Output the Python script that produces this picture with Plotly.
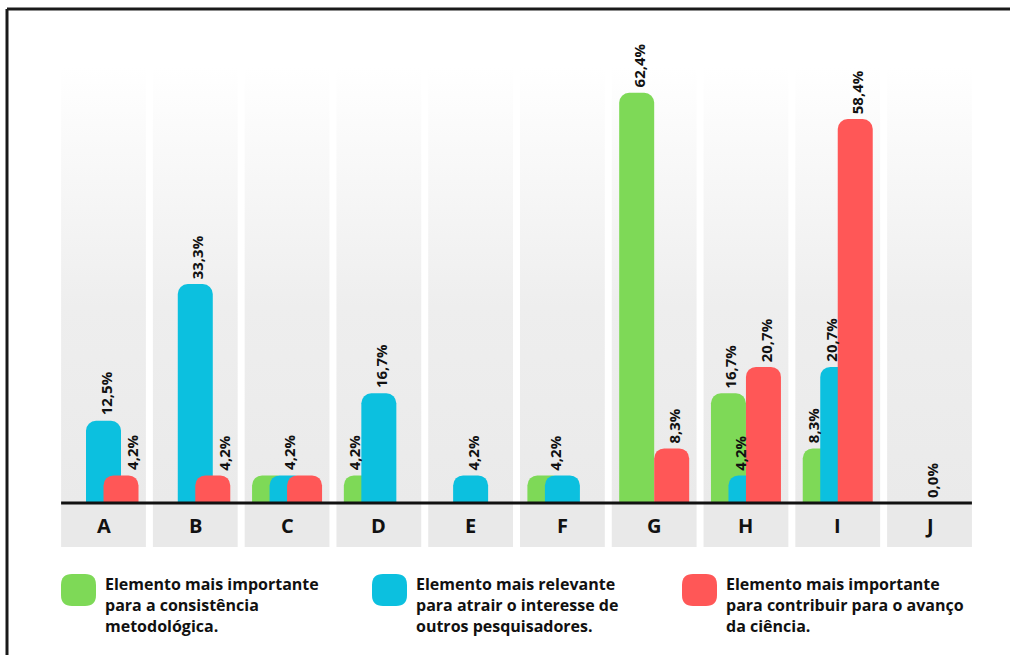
import plotly.graph_objects as go

categories = ["A", "B", "C", "D", "E", "F", "G", "H", "I", "J"]
green_vals = [0, 0, 4.2, 4.2, 0, 4.2, 62.4, 16.7, 8.3, 0]
cyan_vals = [12.5, 33.3, 4.2, 16.7, 4.2, 4.2, 0, 4.2, 20.7, 0]
red_vals = [4.2, 4.2, 4.2, 0, 0, 0, 8.3, 20.7, 58.4, 0]
series_names = [
    "Elemento mais importante<br>para a consistência<br>metodológica.",
    "Elemento mais relevante<br>para atrair o interesse de<br>outros pesquisadores.",
    "Elemento mais importante<br>para contribuir para o avanço<br>da ciência.",
]
colors = ["#7ED957", "#0CC0DF", "#FF5757"]

# label visibility / nudges (style only)
show = [
    [0, 0, 0, 1, 0, 1, 1, 1, 1, 0],
    [1, 1, 1, 1, 1, 0, 0, 1, 1, 0],
    [1, 1, 0, 0, 0, 0, 1, 1, 1, 0],
]
nudge = {(2, 0): 9, (2, 1): 9, (0, 3): -9, (0, 5): 8, (1, 7): -8, (0, 8): -9, (1, 8): -9}

W, H = 1010, 655
PX_X = 91.78
X0PX = 103.5
PX_Y = 6.575
BASE = 503
xr = [-X0PX / PX_X, (W - X0PX) / PX_X]
yr = [-(H - BASE) / PX_Y, BASE / PX_Y]

bw = 35 / PX_X
offsets = [-bw, -bw / 2, 0]
col_half = 42.4 / PX_X
col_top = (BASE - 67) / PX_Y
band_bot = -(547 - BASE) / PX_Y

LABEL_FONT = dict(family="Open Sans", size=15, color="#111111", weight=700)

fig = go.Figure()

# gradient column backgrounds (base axes, drawn underneath)
gx, gy = [], []
for i in range(len(categories)):
    gx += [i - col_half, i + col_half, i + col_half, i - col_half, i - col_half, None]
    gy += [0, 0, col_top, col_top, 0, None]
fig.add_trace(go.Scatter(
    x=gx, y=gy, fill="toself", mode="none", hoverinfo="skip", showlegend=False,
    fillgradient=dict(type="vertical", start=0, stop=col_top,
                      colorscale=[[0, "#eaeaea"], [0.45, "#eeeeee"], [1, "#ffffff"]]),
    xaxis="x", yaxis="y",
))

xs = list(range(len(categories)))
for s, vals in enumerate([green_vals, cyan_vals, red_vals]):
    fig.add_trace(go.Bar(
        x=xs, y=vals, width=bw, offset=offsets[s],
        marker=dict(color=colors[s], cornerradius=10, line=dict(width=0)),
        name=series_names[s], showlegend=False, hoverinfo="skip",
        xaxis="x2", yaxis="y2",
    ))

def fmt(v):
    return f"{v:.1f}".replace(".", ",") + "%"

annotations = []
for s, vals in enumerate([green_vals, cyan_vals, red_vals]):
    for i, v in enumerate(vals):
        if v > 0 and show[s][i]:
            annotations.append(dict(
                x=i + offsets[s] + bw / 2, y=v, xref="x", yref="y",
                text=fmt(v), showarrow=False, textangle=-90,
                yanchor="bottom", xanchor="center", yshift=3,
                xshift=nudge.get((s, i), 0) + 2,
                font=LABEL_FONT,
            ))
# zero-total category label
for i in range(len(categories)):
    if green_vals[i] == 0 and cyan_vals[i] == 0 and red_vals[i] == 0:
        annotations.append(dict(
            x=i, y=0, xref="x", yref="y", text=fmt(0), showarrow=False, textangle=-90,
            yanchor="bottom", xanchor="center", yshift=3, xshift=2,
            font=LABEL_FONT,
        ))

shapes = []
for i, c in enumerate(categories):
    shapes.append(dict(type="rect", xref="x", yref="y", x0=i - col_half, x1=i + col_half,
                       y0=band_bot, y1=0, fillcolor="#e9e9e9", line=dict(width=0), layer="below"))
    annotations.append(dict(x=i, y=band_bot / 2, xref="x", yref="y", text=c, showarrow=False,
                            font=dict(family="Open Sans", size=20, color="#111111", weight=700)))

shapes.append(dict(type="line", xref="x", yref="y", x0=-col_half, x1=len(categories) - 1 + col_half,
                   y0=0, y1=0, line=dict(color="#111111", width=3), layer="above"))

# frame
shapes.append(dict(type="line", xref="paper", yref="paper", x0=7 / W, x1=1.0, y0=1 - 9 / H, y1=1 - 9 / H,
                   line=dict(color="#1a1a1a", width=3)))
shapes.append(dict(type="line", xref="paper", yref="paper", x0=7 / W, x1=7 / W, y0=0, y1=1 - 9 / H,
                   line=dict(color="#1a1a1a", width=3)))

# custom legend
def rrect(x0, y0, x1, y1, r):
    rx, ry = r / W, r / H
    X0, X1 = x0 / W, x1 / W
    Y0, Y1 = 1 - y1 / H, 1 - y0 / H
    return (f"M {X0+rx},{Y0} L {X1-rx},{Y0} Q {X1},{Y0} {X1},{Y0+ry} L {X1},{Y1-ry} "
            f"Q {X1},{Y1} {X1-rx},{Y1} L {X0+rx},{Y1} Q {X0},{Y1} {X0},{Y1-ry} "
            f"L {X0},{Y0+ry} Q {X0},{Y0} {X0+rx},{Y0} Z")

leg_x = [61, 372, 682]
for s in range(3):
    shapes.append(dict(type="path", xref="paper", yref="paper",
                       path=rrect(leg_x[s], 574, leg_x[s] + 35, 606, 11),
                       fillcolor=colors[s], line=dict(width=0)))
    annotations.append(dict(x=(leg_x[s] + 42) / W, y=1 - 571 / H, xref="paper", yref="paper",
                            xanchor="left", yanchor="top", align="left", showarrow=False,
                            text=series_names[s],
                            font=dict(family="Open Sans", size=16, color="#111111", weight=700)))

fig.update_layout(
    width=W, height=H, margin=dict(l=0, r=0, t=0, b=0),
    paper_bgcolor="white", plot_bgcolor="rgba(0,0,0,0)",
    barmode="overlay", showlegend=False,
    xaxis=dict(range=xr, visible=False, fixedrange=True),
    yaxis=dict(range=yr, visible=False, fixedrange=True),
    xaxis2=dict(range=xr, visible=False, fixedrange=True, overlaying="x"),
    yaxis2=dict(range=yr, visible=False, fixedrange=True, overlaying="y"),
    shapes=shapes, annotations=annotations,
)

fig.write_html("out.html")
